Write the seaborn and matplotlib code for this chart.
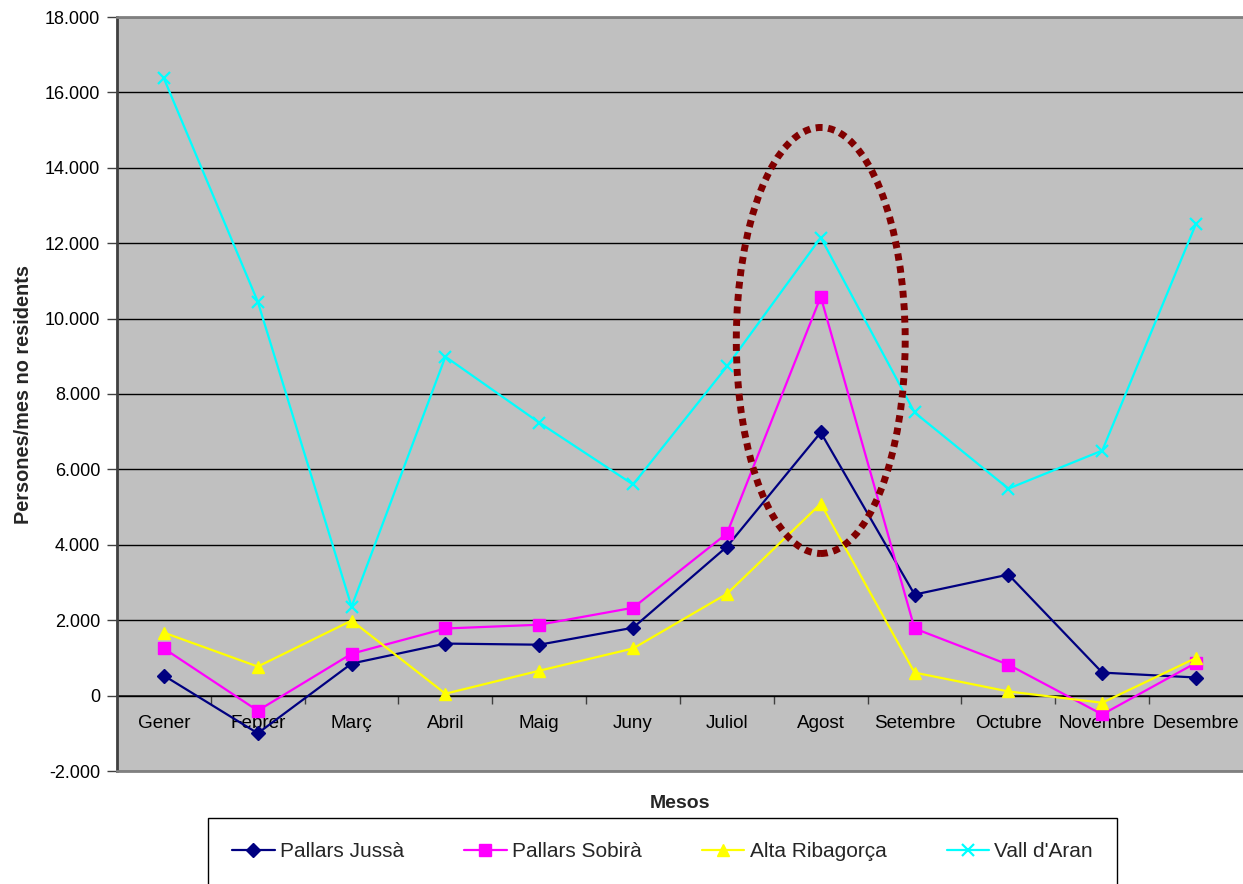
import matplotlib
matplotlib.use("Agg")
import matplotlib.pyplot as plt
import seaborn as sns
import pandas as pd
from matplotlib.patches import Ellipse
from matplotlib.ticker import FuncFormatter, FixedLocator

# ---- data ----
months = ["Gener", "Febrer", "Març", "Abril", "Maig", "Juny", "Juliol",
          "Agost", "Setembre", "Octubre", "Novembre", "Desembre"]
pallars_jussa = [530, -1000, 850, 1380, 1350, 1800, 3950, 6980, 2680, 3210, 610, 480]
pallars_sobira = [1250, -400, 1110, 1780, 1880, 2330, 4300, 10580, 1780, 820, -500, 870]
alta_ribagorca = [1670, 770, 1990, 50, 660, 1250, 2700, 5090, 610, 110, -190, 1000]
vall_aran = [16370, 10450, 2360, 8990, 7240, 5600, 8730, 12150, 7510, 5490, 6500, 12520]
series_names = ["Pallars Jussà", "Pallars Sobirà", "Alta Ribagorça", "Vall d'Aran"]
y_ticks = list(range(-2000, 18001, 2000))

colors = ["#000080", "#FF00FF", "#FFFF00", "#00FFFF"]
markers = ["D", "s", "^", "x"]
msizes = [7, 8.5, 9, 9]

df = pd.DataFrame({
    "idx": list(range(len(months))) * 4,
    "value": pallars_jussa + pallars_sobira + alta_ribagorca + vall_aran,
    "region": sum([[n] * len(months) for n in series_names], []),
})

sns.set_theme(style="white")
plt.rcParams["font.family"] = ["Liberation Sans", "DejaVu Sans"]

fig = plt.figure(figsize=(12.43, 8.84), dpi=100)
ax = fig.add_axes([117 / 1243, 1 - 771 / 884, 1 - 117 / 1243, (771 - 17) / 884])
ax.set_facecolor("#C0C0C0")

for name, c, m, ms in zip(series_names, colors, markers, msizes):
    sub = df[df["region"] == name]
    sns.lineplot(data=sub, x="idx", y="value", ax=ax, color=c, marker=m,
                 markersize=ms, markeredgecolor=c, markerfacecolor=c,
                 markeredgewidth=1.6 if m == "x" else 1.0,
                 linewidth=1.6, label=name, legend=False, sort=False)

ymin, ymax = y_ticks[0], y_ticks[-1]
ax.set_xlim(-0.5, len(months) - 0.5)
ax.set_ylim(ymin, ymax)
ax.yaxis.set_major_locator(FixedLocator(y_ticks))
ax.yaxis.set_major_formatter(FuncFormatter(lambda v, p: f"{int(v):,}".replace(",", ".")))
ax.yaxis.grid(True, color="black", linewidth=1.0)
ax.set_axisbelow(True)
ax.tick_params(axis="y", which="major", length=7, width=1, color="#404040",
               direction="out", pad=5, labelsize=13, labelcolor="black", left=True)
ax.tick_params(axis="x", which="both", length=0, labelbottom=False, bottom=False)
ax.set_xticks([])

for side in ["top", "bottom"]:
    ax.spines[side].set_color("#808080")
    ax.spines[side].set_linewidth(2)
ax.spines["left"].set_color("#404040")
ax.spines["left"].set_linewidth(2)
ax.spines["right"].set_visible(False)

# category axis crossing at 0
zero_frac = (0 - ymin) / (ymax - ymin)
sec = ax.secondary_xaxis(zero_frac)
sec.set_xticks(range(len(months)), labels=months)
sec.xaxis.set_minor_locator(FixedLocator([i + 0.5 for i in range(len(months) - 1)]))
sec.tick_params(which="major", length=0, pad=14, labelsize=13.6, labelcolor="black")
sec.tick_params(which="minor", length=6, width=1, color="#404040", direction="out")
sec.spines["bottom"].set_color("#202020")
sec.spines["bottom"].set_linewidth(1.2)

# labels
ax.set_ylabel("Persones/mes no residents", fontsize=14.3, fontweight="bold",
              family=["Liberation Sans Narrow", "Liberation Sans", "DejaVu Sans"],
              va="center")
ax.yaxis.set_label_coords((24 - 117) / 1126, 0.5)
ax.set_xlabel("Mesos", fontsize=14, fontweight="bold", va="center")
ax.xaxis.set_label_coords(0.5, (771 - 803) / 754)

# highlight ellipse around August
agost = months.index("Agost")
ell = Ellipse((agost, 9420), width=1.8, height=11300, fill=False,
              edgecolor="#800000", linewidth=5, linestyle=(0, (1, 0.8)),
              capstyle="butt", zorder=5)
ax.add_patch(ell)

# legend
handles, labels = ax.get_legend_handles_labels()
leg = fig.legend(handles, labels, loc="upper left", ncol=4, mode="expand",
                 bbox_to_anchor=(208 / 1243, 1 - 827 / 884, (1117 - 208) / 1243, 0.01),
                 frameon=True, fancybox=False, edgecolor="black", fontsize=15,
                 borderpad=1.15, handlelength=2.05, handletextpad=0.25,
                 borderaxespad=0, framealpha=1)
leg.get_frame().set_linewidth(1.0)

fig.savefig("out.png", dpi=100, facecolor="white")
